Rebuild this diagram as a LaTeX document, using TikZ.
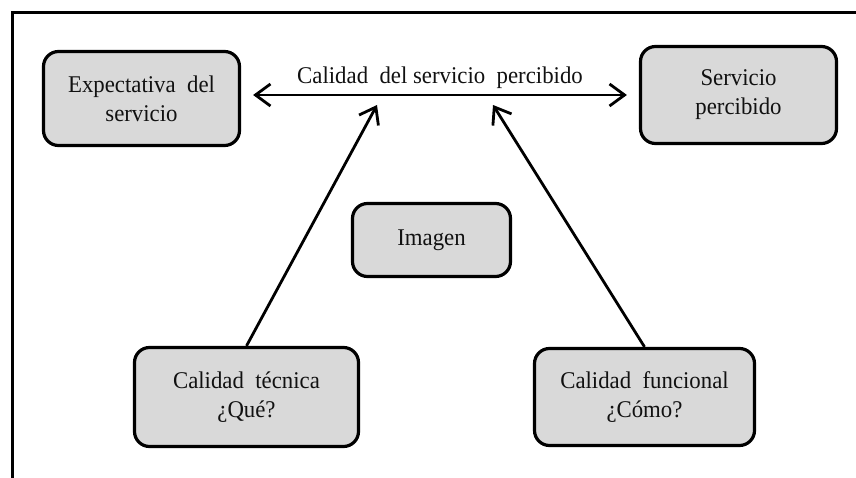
\documentclass[tikz,border=0pt]{standalone}
\usepackage{fontspec}
\setmainfont{Liberation Serif}[FakeStretch=0.95]
\usetikzlibrary{arrows.meta}
\definecolor{boxgray}{HTML}{D9D9D9}
\definecolor{txt}{HTML}{111111}
\tikzset{
  lblfont/.style={font=\fontsize{24}{29}\selectfont, text=txt},
  box/.style={draw=black, line width=3.2pt, fill=boxgray, rounded corners=15pt,
    align=center, inner sep=0pt, lblfont},
  conn/.style={line width=2.8pt, -{Straight Barb[length=15pt,width=22pt,line width=2.8pt]}},
  dconn/.style={line width=2.8pt, {Straight Barb[length=15pt,width=22pt,line width=2.8pt]}-{Straight Barb[length=15pt,width=22pt,line width=2.8pt]}},
}
\begin{document}
\begin{tikzpicture}[x=1pt,y=-1pt]
\useasboundingbox (0,0) rectangle (856,478);
\draw[line width=3pt] (12,478) -- (12,13) -- (856,13);

\node[box, minimum width=196pt, minimum height=94pt] (exp) at (141.5,98.5) {Expectativa \ del\\servicio};
\node[box, minimum width=196pt, minimum height=97pt] (serv) at (738.5,95) {Servicio\\percibido};
\node[box, minimum width=158pt, minimum height=73pt] (img) at (431.5,240) {Imagen};
\node[box, minimum width=224pt, minimum height=99pt] (tec) at (246.5,397) {Calidad \ técnica\\¿Qué?};
\node[box, minimum width=220pt, minimum height=97pt] (fun) at (644.5,397) {Calidad \ funcional\\¿Cómo?};

\coordinate (t1) at (377,105);
\coordinate (t2) at (493,105);

\draw[dconn, shorten <=12pt, shorten >=12pt] (exp.east |- serv.west) -- (serv.west)
  node[midway, above=2pt, lblfont] (lbl) {Calidad \ del servicio \ percibido};
\draw[conn] (tec.north) -- (t1);
\draw[conn] (fun.north) -- (t2);
\end{tikzpicture}
\end{document}
